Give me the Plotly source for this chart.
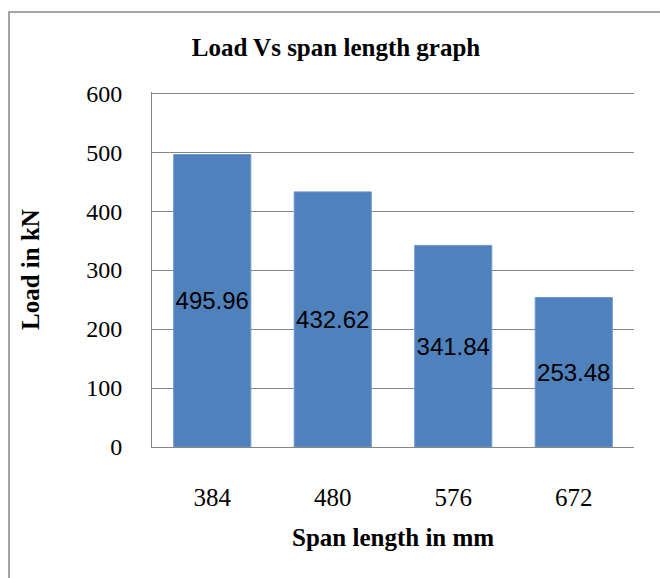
import plotly.graph_objects as go

categories = ["384", "480", "576", "672"]
loads = [495.96, 432.62, 341.84, 253.48]
y_ticks = [0, 100, 200, 300, 400, 500, 600]

W, H = 660, 578
L, R, T, B = 152, 26, 92, 131
pw, ph = W - L - R, H - T - B

def px_x(x):
    return (x - L) / pw

def px_y(y):
    return (H - B - y) / ph

fig = go.Figure()
fig.add_trace(go.Bar(
    x=categories, y=loads,
    marker=dict(color="#4F81BD", line=dict(color="#6F97CC", width=1)),
    text=[f"{v:.2f}" for v in loads],
    textposition="inside", insidetextanchor="middle",
    constraintext="none", textangle=0,
    textfont=dict(family="Liberation Sans", size=24, color="black"),
    width=0.64,
))

fig.update_layout(
    width=W, height=H,
    margin=dict(l=L, r=R, t=T, b=B),
    paper_bgcolor="white", plot_bgcolor="white",
    showlegend=False,
    title=dict(text="<b>Load Vs span length graph</b>", x=336 / W, xanchor="center",
               y=1 - 47 / H, yanchor="middle",
               font=dict(family="Liberation Serif", size=25, color="black")),
    font=dict(family="Liberation Serif", color="black"),
)
fig.update_xaxes(
    type="category", showgrid=False, showline=True, linecolor="#868686", linewidth=1,
    ticks="", tickfont=dict(family="Liberation Serif", size=25, color="black"),
    ticklabelstandoff=28,
)
fig.update_yaxes(
    range=[0, 602], tickvals=y_ticks, showgrid=True, gridcolor="#868686", gridwidth=1,
    showline=True, linecolor="#868686", linewidth=1, zeroline=False,
    ticks="", tickfont=dict(family="Liberation Serif", size=24, color="black"),
    ticklabelstandoff=24,
)

fig.add_annotation(text="<b>Load in kN</b>", xref="paper", yref="paper",
                   x=px_x(30), y=px_y(270), textangle=-90, showarrow=False,
                   xanchor="center", yanchor="middle",
                   font=dict(family="Liberation Serif", size=25, color="black"))
fig.add_annotation(text="<b>Span length in mm</b>", xref="paper", yref="paper",
                   x=px_x(393), y=px_y(537), showarrow=False,
                   xanchor="center", yanchor="middle",
                   font=dict(family="Liberation Serif", size=25, color="black"))

fig.add_shape(type="rect", xref="paper", yref="paper",
              x0=px_x(9), y0=px_y(600), x1=px_x(700), y1=px_y(12),
              line=dict(color="#888888", width=1.5), fillcolor="rgba(0,0,0,0)",
              layer="below")

fig.write_html("out.html")
